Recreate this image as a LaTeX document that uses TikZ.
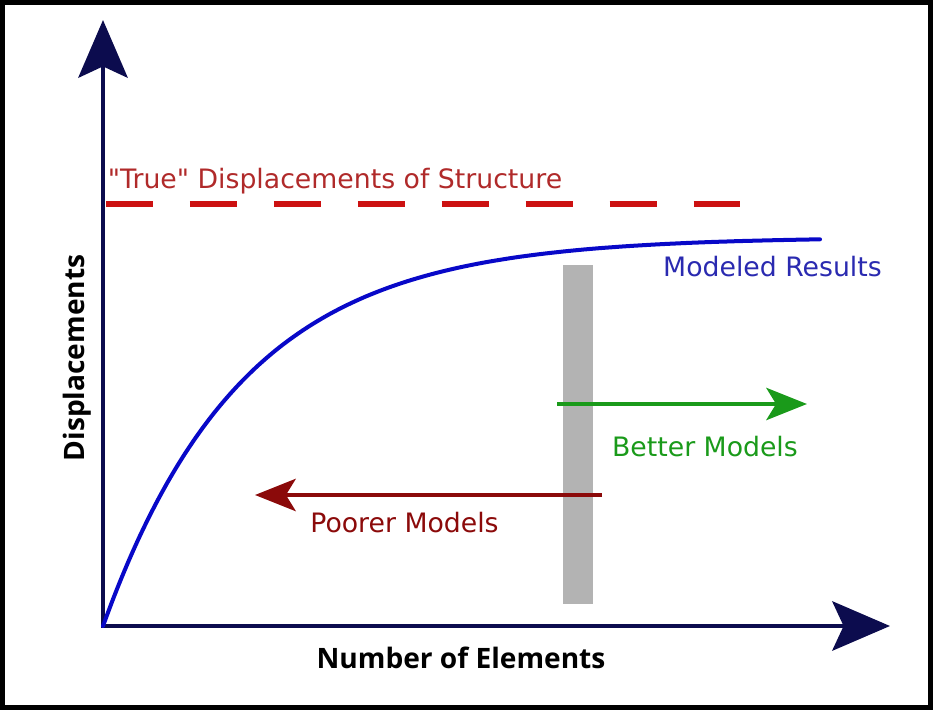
\documentclass[tikz,border=0pt]{standalone}
\usepackage{fontspec}
\setmainfont{DejaVu Sans}
\newfontfamily\axisfont{Open Sans}
\usetikzlibrary{arrows.meta}
\definecolor{axisnavy}{HTML}{0C0C4E}
\definecolor{truered}{HTML}{CC1111}
\definecolor{truetext}{HTML}{B02A2A}
\definecolor{modelblue}{HTML}{0808C8}
\definecolor{modeltext}{HTML}{2A2AB0}
\definecolor{bettergreen}{HTML}{1A9A1A}
\definecolor{poorerred}{HTML}{8B0A0A}
\definecolor{bargrey}{HTML}{B3B3B3}
\def\dq{\XeTeXglyph\XeTeXglyphindex "quotedbl"\relax}
\tikzset{
  axisline/.style={axisnavy, line width=3.5pt, line join=miter},
  modelarrow/.style={line width=2.2pt, -{Stealth[length=29pt,width=23pt,inset=7pt]}},
  caption/.style={font=\fontsize{19}{22}\selectfont, anchor=base},
  axislabel/.style={font=\axisfont\bfseries\fontsize{20}{24}\selectfont, anchor=base}
}

\begin{document}
\begin{tikzpicture}
	\useasboundingbox (0,0) rectangle (23.325,17.75);
	\draw[line width=3.5pt] (0.0625,0.0625) rectangle (23.2625,17.6875);

	\coordinate (origin) at (2.575,2.1);
	\coordinate (ytip) at (2.575,17.25);
	\coordinate (xtip) at (22.25,2.1);

	% cut-off bar
	\fill[bargrey] (14.075,2.65) rectangle (14.825,11.125);

	% axes
	\draw[axisline, {Stealth[length=41pt,width=35pt,inset=8pt]}-{Stealth[length=41pt,width=35pt,inset=8pt]}] (ytip) -- (origin) -- (xtip);

	% "true" value
	\coordinate (truestart) at (2.65,12.65);
	\coordinate (trueend) at (18.525,12.65);
	\draw[truered, line width=4pt, dash pattern=on 33.4pt off 26.3pt] (truestart) -- (trueend);
	\node[caption, truetext] (truelabel) at (8.375,13.025) {\dq True\dq{} Displacements of Structure};

	% modeled curve
	\draw[modelblue, line width=2.85pt, line cap=round, domain=2.575:20.5, samples=80, smooth]
		plot (\x, {2.1+9.725*(1-exp(-(\x-2.575)/3.5))});
	\node[caption, modeltext] (modeled) at (19.3125,10.825) {Modeled Results};

	% better / poorer
	\coordinate (betterfrom) at (13.925,7.65);
	\coordinate (betterto) at (20.175,7.65);
	\draw[modelarrow, bettergreen] (betterfrom) -- (betterto);
	\node[caption, bettergreen] (better) at (17.625,6.325) {Better Models};

	\coordinate (poorerfrom) at (15.05,5.375);
	\coordinate (poorerto) at (6.375,5.375);
	\draw[modelarrow, poorerred] (poorerfrom) -- (poorerto);
	\node[caption, poorerred] (poorer) at (10.1125,4.425) {Poorer Models};

	\node[axislabel] (xlabel) at (11.525,1.05) {Number of Elements};
	\node[axislabel, rotate=90] (ylabel) at (2.1,8.8) {Displacements};
\end{tikzpicture}
\end{document}
